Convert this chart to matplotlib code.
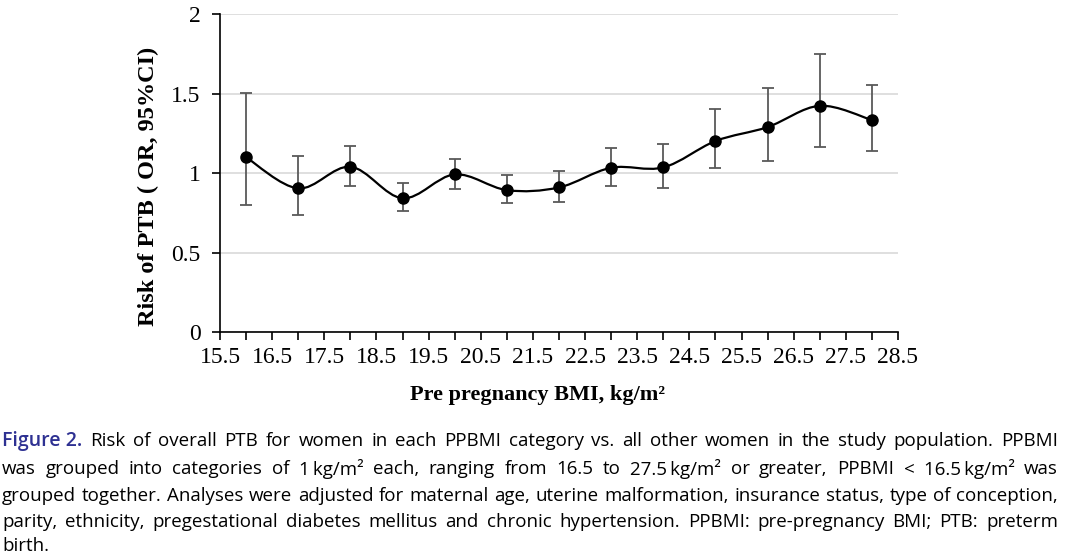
import matplotlib
matplotlib.use("Agg")
import matplotlib.pyplot as plt
from matplotlib.path import Path
from matplotlib.patches import PathPatch
from matplotlib.ticker import MultipleLocator
from matplotlib import font_manager
import numpy as np

# BMI category centres and odds ratios with 95% CI
bmi = [16, 17, 18, 19, 20, 21, 22, 23, 24, 25, 26, 27, 28]
odds = [1.10, 0.904, 1.04, 0.842, 0.992, 0.893, 0.910, 1.034, 1.036, 1.202, 1.290, 1.424, 1.334]
ci_low = [0.798, 0.735, 0.916, 0.760, 0.901, 0.813, 0.819, 0.920, 0.907, 1.033, 1.078, 1.166, 1.139]
ci_high = [1.502, 1.109, 1.172, 0.941, 1.086, 0.987, 1.015, 1.156, 1.183, 1.401, 1.538, 1.748, 1.556]

xtick_labels = ["15.5", "16.5", "17.5", "18.5", "19.5", "20.5", "21.5",
                "22.5", "23.5", "24.5", "25.5", "26.5", "27.5", "28.5"]

caption_lines = [
    "Risk of overall PTB for women in each PPBMI category vs. all other women in the study population. PPBMI",
    "was grouped into categories of 1\u2009kg/m² each, ranging from 16.5 to 27.5\u2009kg/m² or greater, PPBMI < 16.5\u2009kg/m² was",
    "grouped together. Analyses were adjusted for maternal age, uterine malformation, insurance status, type of conception,",
    "parity, ethnicity, pregestational diabetes mellitus and chronic hypertension. PPBMI: pre-pregnancy BMI; PTB: preterm",
    "birth.",
]

fig = plt.figure(figsize=(10.66, 5.56), dpi=100)
ax = fig.add_axes([0.2064, 0.4029, 0.6360, 0.5714])

serif = "Liberation Serif"

# smoothed line (Excel style bezier through the points)
x = np.array(bmi, dtype=float)
y = np.array(odds, dtype=float)
verts = [(x[0], y[0])]
codes = [Path.MOVETO]
n = len(x)
for i in range(n - 1):
    p0 = np.array([x[max(i - 1, 0)], y[max(i - 1, 0)]])
    p1 = np.array([x[i], y[i]])
    p2 = np.array([x[i + 1], y[i + 1]])
    p3 = np.array([x[min(i + 2, n - 1)], y[min(i + 2, n - 1)]])
    c1 = p1 + (p2 - p0) / 6
    c2 = p2 - (p3 - p1) / 6
    verts += [tuple(c1), tuple(c2), tuple(p2)]
    codes += [Path.CURVE4] * 3
ax.add_patch(PathPatch(Path(verts, codes), fill=False, color="black", lw=1.6, zorder=3))

yerr = [np.array(odds) - np.array(ci_low), np.array(ci_high) - np.array(odds)]
ax.errorbar(bmi, odds, yerr=yerr, fmt="none", ecolor="#595959", elinewidth=1.3,
            capsize=4, capthick=1.3, zorder=2)
ax.plot(bmi, odds, "o", color="black", markersize=8, zorder=4)

ax.set_xlim(15.5, 28.5)
ax.set_ylim(0, 2)
ax.xaxis.set_minor_locator(MultipleLocator(1.0))
ax.set_xticks([15.5 + k for k in range(14)])
ax.set_xticklabels(xtick_labels, fontfamily=serif, fontsize=17)
ax.set_yticks([0, 0.5, 1, 1.5, 2])
ax.set_yticklabels(["0", "0.5", "1", "1.5", "2"], fontfamily=serif, fontsize=17)
ax.tick_params(axis="both", which="both", direction="out", length=6, width=1.2, color="black")
ax.tick_params(axis="x", which="major", pad=5)
ax.tick_params(axis="y", which="major", pad=8)

ax.grid(axis="y", color="#d9d9d9", lw=1.2)
ax.set_axisbelow(True)
for s in ["top", "right"]:
    ax.spines[s].set_visible(False)
for s in ["left", "bottom"]:
    ax.spines[s].set_linewidth(1.2)

fig.text(537 / 1066, 1 - 395 / 556, "Pre pregnancy BMI, kg/m²", fontfamily=serif,
         fontweight="bold", fontsize=16, ha="center", va="center")
fig.text(148 / 1066, 1 - 186 / 556, "Risk of PTB ( OR, 95%CI)", fontfamily=serif,
         fontweight="bold", fontsize=17.5, ha="center", va="center", rotation=90)

# justified caption
installed = {f.name for f in font_manager.fontManager.ttflist}
if "Liberation Sans Narrow" in installed:
    body_family = ["Liberation Sans Narrow", "DejaVu Sans"]
    body_size = 15.5
else:
    body_family = ["Open Sans", "DejaVu Sans"]
    body_size = 13.5
renderer = fig.canvas.get_renderer()
W, H = fig.bbox.width, fig.bbox.height
left_px, right_px = 2, 1058
line_y = [441, 469, 496, 522, 546]


def width_of(t):
    return t.get_window_extent(renderer).width


for li, line in enumerate(caption_lines):
    ypos = 1 - line_y[li] / H
    items = []
    if li == 0:
        items.append(("Figure 2.", dict(family=["Open Sans", "DejaVu Sans"], fontsize=14,
                                        color="#2e3192", fontweight="semibold")))
    for w in line.split(" "):
        items.append((w, dict(family=body_family, fontsize=body_size, color="black")))
    texts = [fig.text(0, ypos, w, va="center", ha="left", **kw) for w, kw in items]
    widths = [width_of(t) for t in texts]
    if li < len(caption_lines) - 1:
        gap = (right_px - left_px - sum(widths)) / (len(texts) - 1)
    else:
        gap = 5
    xpos = left_px
    for t, wd in zip(texts, widths):
        t.set_x(xpos / W)
        xpos += wd + gap

fig.savefig("out.png", dpi=100)
